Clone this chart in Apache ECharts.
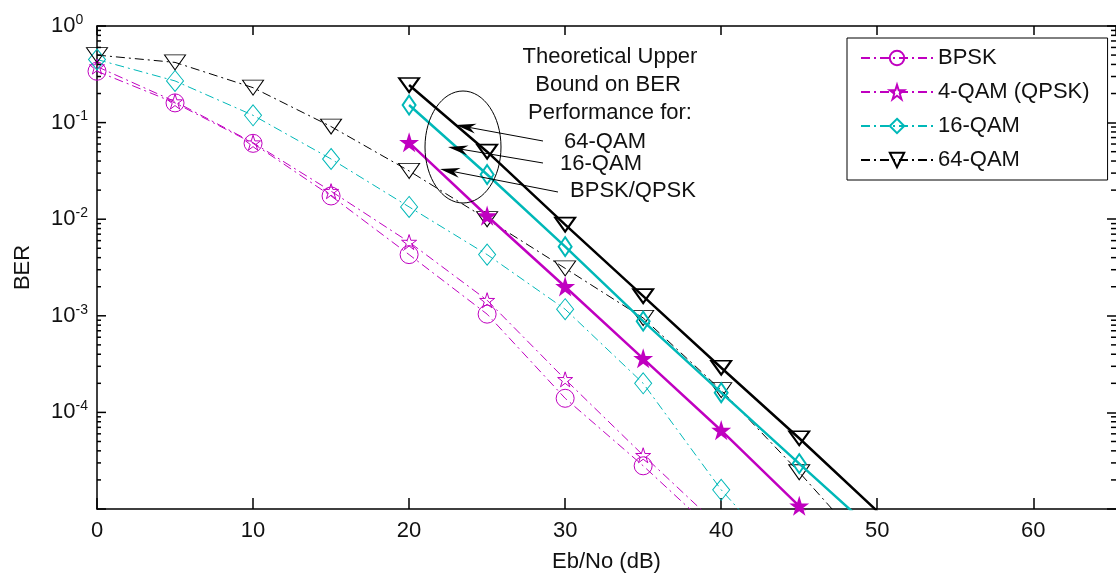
<!DOCTYPE html>
<html><head><meta charset="utf-8">
<script src="https://cdn.jsdelivr.net/npm/echarts@6/dist/echarts.min.js"></script>
<style>html,body{margin:0;padding:0;background:#fff}#c{width:1116px;height:578px}</style>
</head><body><div id="c"></div>
<script>
// ---------- data ----------
const snrSim = [0, 5, 10, 15, 20, 25, 30, 35, 40, 45, 50];
const berBPSK = [0.34, 0.16, 0.061, 0.0174, 0.0043, 0.00104, 1.4e-4, 2.8e-5, 5e-6];
const berQPSK = [0.38, 0.165, 0.062, 0.0195, 0.0058, 0.00145, 2.2e-4, 3.6e-5, 6.3e-6];
const ber16QAM = [0.45, 0.27, 0.119, 0.042, 0.0134, 0.0043, 0.00117, 2.0e-4, 1.58e-5, 2e-6];
const ber64QAM = [0.5, 0.42, 0.23, 0.091, 0.0316, 0.01, 0.0031, 9.5e-4, 1.7e-4, 2.4e-5, 3e-6];

const snrTheory = [20, 25, 30, 35, 40, 45, 50];
const thBPSKQPSK = [0.062, 0.0108, 0.002, 3.6e-4, 6.5e-5, 1.07e-5, 1.9e-6];
const th16QAM = [0.152, 0.029, 0.0052, 8.8e-4, 1.6e-4, 2.95e-5, 5.5e-6];
const th64QAM = [0.245, 0.05, 0.0088, 0.0016, 2.9e-4, 5.4e-5, 9.5e-6];

const legendNames = ['BPSK', '4-QAM (QPSK)', '16-QAM', '64-QAM'];
const yTickExponents = [0, -1, -2, -3, -4];
const majorDecades = [1e-5, 1e-4, 1e-3, 1e-2, 1e-1, 1];
const minorMultipliers = [2, 3, 4, 5, 6, 7, 8, 9];
const minorDecades = [-5, -4, -3, -2, -1];

// ---------- style ----------
const FONT = '"Liberation Sans", Arial, sans-serif';
const FS = 22;
const MAG = '#c000c0', CYA = '#00b8b8', BLK = '#000000';
const STAR = 'path://M0,-10L2.245,-3.09L9.51,-3.09L3.63,1.18L5.88,8.09L0,3.82L-5.88,8.09L-3.63,1.18L-9.51,-3.09L-2.245,-3.09Z';
const XMAX = 65.3;
const DASHDOT = [9, 4, 2, 4];

function pairs(xs, ys) { return ys.map((v, i) => [xs[i], v]); }

function simSeries(name, ys, color, symbol, size, rotate) {
  return {
    name: name, type: 'line', data: pairs(snrSim, ys),
    symbol: symbol, symbolSize: size, symbolRotate: rotate || 0,
    showAllSymbol: true, clip: true, z: 3,
    lineStyle: { color: color, width: 1, type: DASHDOT },
    itemStyle: { color: 'rgba(255,255,255,0)', borderColor: color, borderWidth: 1 }
  };
}
function thSeries(name, ys, color, symbol, size, rotate, filled) {
  return {
    name: name, type: 'line', data: pairs(snrTheory, ys),
    symbol: symbol, symbolSize: size, symbolRotate: rotate || 0,
    showAllSymbol: true, clip: true, z: 4,
    lineStyle: { color: color, width: 2.5, type: 'solid' },
    itemStyle: { color: filled ? color : 'rgba(255,255,255,0)', borderColor: color, borderWidth: 2 }
  };
}

const tickVals = [];
majorDecades.forEach(v => tickVals.push([0, v, 9]));
minorDecades.forEach(d => minorMultipliers.forEach(m => tickVals.push([0, m * Math.pow(10, d), 4])));

function arrow(x1, y1, x2, y2) {
  const dx = x2 - x1, dy = y2 - y1, L = Math.hypot(dx, dy);
  const ux = dx / L, uy = dy / L, nx = -uy, ny = ux;
  const hl = 20, hw = 5, back = 14;
  const bx = x2 - ux * hl, by = y2 - uy * hl;
  const mx = x2 - ux * back, my = y2 - uy * back;
  return [
    { type: 'line', shape: { x1: x1, y1: y1, x2: mx, y2: my }, style: { stroke: '#000', lineWidth: 1 }, z: 100 },
    { type: 'polygon', shape: { points: [[x2, y2], [bx + nx * hw, by + ny * hw], [mx, my], [bx - nx * hw, by - ny * hw]] }, style: { fill: '#000' }, z: 100 }
  ];
}
function label(x, y, t) {
  return { type: 'text', x: x, y: y, z: 100, style: { text: t, font: FS + 'px ' + FONT, fill: '#111', align: 'center', verticalAlign: 'middle' } };
}

const axisLineStyle = { color: '#000', width: 1.5 };

const chart = echarts.init(document.getElementById('c'), null, { renderer: 'canvas' });
chart.setOption({
  animation: false,
  backgroundColor: '#fff',
  grid: { left: 97, top: 26, right: 0, bottom: 67, containLabel: false },
  xAxis: [
    {
      type: 'value', min: 0, max: XMAX, interval: 10, position: 'bottom',
      axisLine: { onZero: false, lineStyle: axisLineStyle },
      axisTick: { inside: true, length: 11, lineStyle: axisLineStyle },
      axisLabel: { fontSize: FS, fontFamily: FONT, color: '#111', margin: 11, showMaxLabel: false },
      splitLine: { show: false },
      name: 'Eb/No (dB)', nameLocation: 'middle', nameGap: 42,
      nameTextStyle: { fontSize: FS, fontFamily: FONT, color: '#111' }
    },
    {
      type: 'value', min: 0, max: XMAX, interval: 10, position: 'top',
      axisLine: { onZero: false, lineStyle: axisLineStyle },
      axisTick: { inside: true, length: 9, lineStyle: axisLineStyle },
      axisLabel: { show: false }, splitLine: { show: false }
    }
  ],
  yAxis: [
    {
      type: 'log', logBase: 10, min: 1e-5, max: 1, splitNumber: 5, position: 'left',
      axisLine: { onZero: false, lineStyle: axisLineStyle },
      axisTick: { show: false },
      axisLabel: {
        align: 'left', margin: 46, color: '#111', fontFamily: FONT, showMinLabel: false,
        formatter: function (v) {
          const e = Math.round(Math.log10(v));
          if (yTickExponents.indexOf(e) < 0) return '';
          return '{b|10}{s|' + e + '}';
        },
        rich: {
          b: { fontSize: FS, fontFamily: FONT, color: '#111' },
          s: { fontSize: 14, fontFamily: FONT, color: '#111', padding: [0, 0, 12, 0] }
        }
      },
      splitLine: { show: false },
      name: 'BER', nameLocation: 'middle', nameGap: 63,
      nameTextStyle: { fontSize: FS, fontFamily: FONT, color: '#111' }
    },
    {
      type: 'log', logBase: 10, min: 1e-5, max: 1, splitNumber: 5, position: 'right',
      axisLine: { show: false, onZero: false, lineStyle: axisLineStyle },
      axisTick: { show: true, inside: true, length: 9, lineStyle: axisLineStyle },
      axisLabel: { show: false }, splitLine: { show: false }
    }
  ],
  legend: {
    data: legendNames, orient: 'vertical', left: 847, top: 38,
    backgroundColor: '#fff', borderColor: '#000', borderWidth: 1,
    padding: [9, 18, 9, 13], itemWidth: 72, itemHeight: 18, itemGap: 12,
    textStyle: { fontSize: FS, fontFamily: FONT, color: '#111', lineHeight: 22 }
  },
  graphic: [
    { type: 'ellipse', z: 100, shape: { cx: 463, cy: 147, rx: 38, ry: 56 }, style: { fill: 'none', stroke: '#000', lineWidth: 1 } },
    label(610, 57, 'Theoretical Upper'),
    label(608, 85, 'Bound on BER'),
    label(610, 113, 'Performance for:'),
    label(605, 142, '64-QAM'),
    label(601, 164, '16-QAM'),
    label(633, 191, 'BPSK/QPSK')
  ].concat(arrow(543, 141, 456, 125), arrow(543, 163, 448, 147), arrow(558, 192, 440, 169)),
  series: [
    simSeries('BPSK', berBPSK, MAG, 'circle', 18),
    simSeries('4-QAM (QPSK)', berQPSK, MAG, STAR, 15),
    simSeries('16-QAM', ber16QAM, CYA, 'diamond', [17, 21]),
    simSeries('64-QAM', ber64QAM, BLK, 'triangle', [21, 15], 180),
    thSeries('Theory BPSK/QPSK', thBPSKQPSK, MAG, STAR, 14, 0, true),
    thSeries('Theory 16-QAM', th16QAM, CYA, 'diamond', [13, 19], 0, false),
    thSeries('Theory 64-QAM', th64QAM, BLK, 'triangle', [20, 14], 180, false),
    {
      type: 'custom', coordinateSystem: 'cartesian2d', xAxisIndex: 0, yAxisIndex: 0,
      silent: true, z: 6, data: tickVals,
      renderItem: function (params, api) {
        const v = api.value(1), len = api.value(2);
        const p1 = api.coord([0, v]);
        const p2 = api.coord([XMAX, v]);
        const children = [
          { type: 'line', shape: { x1: p1[0], y1: p1[1], x2: p1[0] + len, y2: p1[1] }, style: { stroke: '#000', lineWidth: 1.5 } }
        ];
        if (len < 9) children.push({ type: 'line', shape: { x1: p2[0], y1: p2[1], x2: p2[0] - 5, y2: p2[1] }, style: { stroke: '#000', lineWidth: 1.5 } });
        return { type: 'group', children: children };
      }
    }
  ]
});
</script></body></html>
